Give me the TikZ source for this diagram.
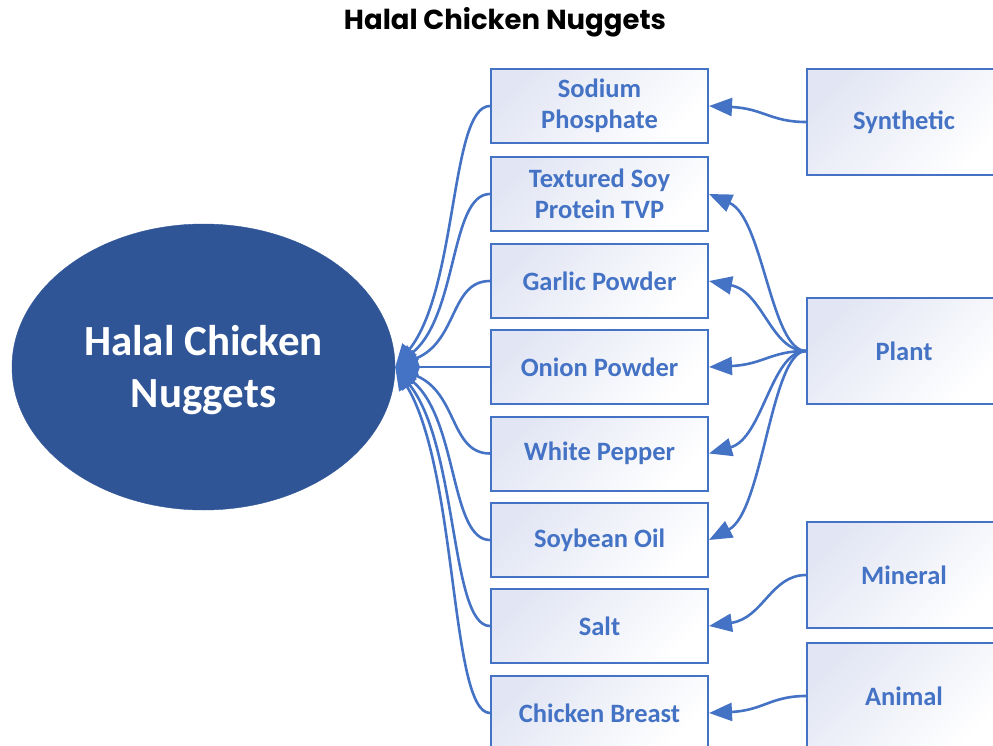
\documentclass[tikz,border=0pt]{standalone}
\usepackage{fontspec}
\setmainfont{Carlito}
\newfontfamily\titlefont{Poppins}
\usetikzlibrary{shapes.geometric,arrows.meta}
\definecolor{visioblue}{HTML}{4472C4}
\definecolor{ellblue}{HTML}{2F5597}
\definecolor{boxlav}{HTML}{E2E6F4}
\tikzset{
	item/.style={draw=visioblue,line width=2pt,top color=boxlav,bottom color=white,shading angle=45,minimum width=217pt,minimum height=74pt,align=center,inner sep=0pt,font=\fontsize{26.5}{31}\selectfont\bfseries,text=visioblue},
	source/.style={item,minimum width=194pt,minimum height=106pt},
	link/.style={draw=visioblue,line width=2.6pt,-{Triangle[length=23pt,width=18pt]}}
}
\begin{document}
\begin{tikzpicture}[x=1pt,y=-1pt]
		\useasboundingbox (0,0) rectangle (993,746);
		\clip (0,0) rectangle (993,746);
		\node[font=\titlefont\bfseries\fontsize{27.5}{32}\selectfont] (title) at (505,22) {Halal Chicken Nuggets};
		\node[ellipse,fill=ellblue,draw=ellblue,minimum width=383pt,minimum height=286pt,inner sep=0pt,text=white,align=center,font=\fontsize{43}{52}\selectfont\bfseries] (nuggets) at (203.5,367) {};
		\node[text=white,align=center,font=\fontsize{43}{52}\selectfont\bfseries] (nuggetstext) at (203.5,370) {Halal Chicken\\Nuggets};
		\node[item] (sodium) at (599.5,106) {Sodium\\Phosphate};
		\node[item] (textured) at (599.5,194) {Textured Soy\\Protein TVP};
		\node[item] (garlic) at (599.5,281) {Garlic Powder};
		\node[item] (onion) at (599.5,367) {Onion Powder};
		\node[item] (pepper) at (599.5,453.5) {White Pepper};
		\node[item] (oil) at (599.5,540) {Soybean Oil};
		\node[item] (salt) at (599.5,626) {Salt};
		\node[item] (breast) at (599.5,713) {Chicken Breast};
		\node[source] (synthetic) at (904,122) {Synthetic};
		\node[source] (plant) at (904,351) {Plant};
		\node[source] (mineral) at (904,575) {Mineral};
		\node[source] (animal) at (904,696) {Animal};
		\coordinate (hub) at (nuggets.east);
		\foreach \n/\y in {sodium/106,textured/194,garlic/281,onion/367,pepper/453.5,oil/540,salt/626,breast/713}
			\draw[link] (\n.west) .. controls +(-40,0) and (458,{367+0.3*(\y-367)}) .. (hub);
		\foreach \s/\t/\sy/\ty in {synthetic/sodium/122/106,plant/textured/351/194,plant/garlic/351/281,plant/onion/351/367,plant/pepper/351/453.5,plant/oil/351/540,mineral/salt/575/626,animal/breast/696/713}
			\draw[link] (\s.west) .. controls +(-35,0) and (763,{\ty+0.15*(\sy-\ty)}) .. (\t.east);
\end{tikzpicture}
\end{document}
